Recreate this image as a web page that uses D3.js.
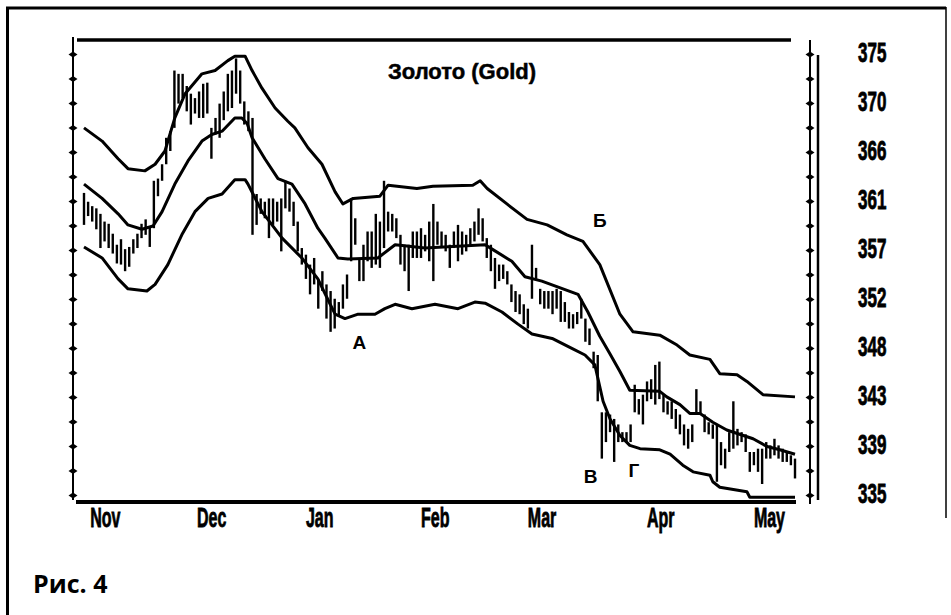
<!DOCTYPE html>
<meta charset="utf-8">
<head>
  <title>Gold</title>
</head>
<style>
body { margin: 0; background: #fff; }
svg { display: block; }
.lbl { font-family: "Liberation Sans", Arial, sans-serif; font-weight: bold; font-size: 20px; fill: #000; stroke: #000; stroke-width: 0.6; }
.note { font-family: "Liberation Sans", Arial, sans-serif; font-weight: bold; font-size: 19px; fill: #000; }
</style>
<body>
  <div id="content"></div>
  <script src="https://cdnjs.cloudflare.com/ajax/libs/d3/7.8.5/d3.min.js"></script>
  <script>

// price labels on the right (original scale, 10 levels)
var priceLabels = ['375', '370', '366', '361', '357', '352', '348', '343', '339', '335'];
// months and the trading day where each label starts
var months = ['Nov', 'Dec', 'Jan', 'Feb', 'Mar', 'Apr', 'May'];
var monthStart = [1.5, 27.5, 54, 82, 108, 137, 163];

// daily bars
var highs = [
  362.4, 361.6, 361.2, 361.0, 360.5, 359.8, 359.6, 358.7, 357.7, 358.2,
  357.3, 357.5, 358.2, 358.7, 359.6, 360.0, 359.4, 363.5, 363.7, 365.0,
  367.4, 368.0, 373.5, 373.2, 373.2, 372.1, 371.4, 371.0, 371.6, 372.3,
  372.4, 368.3, 369.2, 370.5, 371.6, 373.2, 373.5, 374.6, 373.5, 370.7,
  369.8, 369.2, 362.3, 361.9, 361.6, 361.9, 361.9, 361.6, 361.9, 363.5,
  362.8, 361.6, 359.8, 357.4, 356.8, 355.9, 356.5, 354.6, 355.3, 354.1,
  353.5, 352.8, 352.5, 354.1, 355.0, 361.9, 360.1, 356.5, 357.7, 358.9,
  358.9, 360.5, 359.8, 363.5, 360.7, 360.5, 360.1, 358.6, 357.7, 357.7,
  358.9, 358.9, 359.2, 358.6, 359.8, 361.4, 359.8, 358.9, 358.6, 357.7,
  358.9, 359.5, 358.9, 358.6, 359.2, 359.8, 361.0, 360.1, 358.3, 357.7,
  356.5, 355.9, 355.9, 355.3, 354.1, 353.5, 353.2, 352.3, 351.9, 357.7,
  355.6, 353.7, 353.5, 353.5, 353.5, 353.7, 353.5, 352.5, 351.6, 351.4,
  351.6, 352.8, 351.0, 350.1, 348.0, 347.7, 342.5, 342.5, 342.3, 341.9,
  341.4, 340.7, 340.7, 341.4, 345.0, 343.7, 344.1, 345.3, 345.5, 346.8,
  347.1, 344.1, 343.5, 343.5, 342.8, 342.3, 341.4, 341.0, 341.4, 344.6,
  343.5, 342.3, 341.6, 341.4, 341.4, 339.8, 339.2, 340.7, 343.5, 341.0,
  340.7, 340.5, 338.9, 338.9, 339.2, 339.2, 339.8, 339.5, 340.1, 339.5,
  339.2, 338.9, 338.6, 338.3
];
var lows = [
  359.5, 360.3, 359.8, 359.1, 357.4, 358.0, 357.4, 356.9, 356.0, 355.9,
  355.3, 355.7, 356.9, 357.4, 358.3, 358.6, 357.5, 359.2, 362.1, 363.5,
  365.0, 366.2, 368.3, 370.5, 371.0, 369.8, 368.6, 369.6, 369.2, 369.2,
  369.6, 365.5, 367.7, 367.4, 369.0, 369.8, 370.1, 371.4, 370.5, 368.6,
  368.0, 358.6, 359.5, 360.5, 360.1, 358.3, 359.5, 359.8, 357.1, 361.0,
  360.7, 359.4, 357.1, 355.9, 354.6, 353.2, 354.1, 351.9, 353.5, 351.0,
  349.8, 350.1, 351.2, 351.9, 352.8, 356.2, 357.7, 354.4, 354.4, 356.2,
  355.6, 355.9, 355.6, 357.4, 358.9, 358.9, 358.3, 355.9, 355.3, 353.5,
  356.5, 356.5, 356.5, 357.1, 356.2, 354.4, 357.7, 357.4, 357.1, 355.6,
  357.4, 356.2, 356.8, 357.1, 357.7, 358.0, 358.6, 358.0, 356.5, 355.3,
  353.7, 354.4, 354.6, 354.1, 352.5, 351.6, 351.4, 350.5, 350.1, 352.8,
  354.6, 352.3, 351.9, 351.9, 351.4, 351.9, 350.7, 350.7, 350.1, 350.1,
  350.5, 351.0, 348.9, 348.6, 346.5, 343.5, 338.3, 339.8, 340.7, 338.0,
  339.8, 339.8, 339.8, 339.8, 342.5, 342.3, 341.4, 343.5, 343.7, 343.2,
  343.7, 342.5, 342.3, 341.9, 341.0, 340.5, 339.5, 339.2, 339.8, 342.3,
  342.3, 340.7, 340.5, 340.1, 336.2, 337.7, 337.4, 338.9, 339.2, 339.5,
  339.8, 338.9, 337.1, 337.7, 337.1, 336.0, 338.3, 338.3, 338.6, 338.3,
  338.0, 338.0, 337.7, 336.5
];

// envelope: [trading day, price]
var upperBand = [
  [0, 368.3], [4.4, 367.1], [8.3, 365.5], [10.7, 364.6], [14.8, 364.4], [17.3, 365.0],
  [19.7, 366.2], [22.1, 369.2], [24.6, 371.4], [28.7, 373.2], [31.9, 373.5], [35.0, 374.4],
  [36.7, 374.8], [39.2, 374.8], [40.9, 373.5], [43.3, 371.9], [46.5, 370.1], [49.6, 368.9],
  [51.3, 368.3], [54.5, 366.5], [57.9, 365.0], [61.1, 362.5], [63.0, 361.4], [65.5, 361.9],
  [72.0, 362.1], [74.0, 363.1], [81.0, 362.8], [84.9, 363.0], [94.6, 363.1], [96.4, 363.5],
  [98.1, 362.8], [102.9, 361.4], [107.8, 360.0], [112.7, 359.5], [117.5, 358.6], [121.4, 358.0],
  [125.5, 355.9], [130.4, 351.4], [133.6, 349.8], [140.1, 349.5], [144.3, 348.6], [147.4, 347.7],
  [152.3, 347.3], [154.7, 346.0], [158.9, 345.9], [161.3, 345.3], [165.2, 344.1], [173, 343.9]
];
var middleBand = [
  [0, 363.2], [4.4, 361.9], [8.3, 360.5], [10.7, 359.5], [14.1, 359.1], [16.8, 359.4],
  [19.0, 360.7], [22.1, 363.2], [25.3, 365.3], [28.7, 367.1], [31.1, 367.7], [33.6, 368.0],
  [36.7, 369.2], [38.4, 369.2], [39.7, 368.7], [40.9, 367.4], [44.0, 365.5], [47.2, 363.7],
  [50.6, 363.2], [53.8, 361.4], [56.9, 359.2], [58.6, 358.3], [61.8, 356.5], [64.2, 356.4],
  [71.5, 356.5], [75.7, 357.7], [83.0, 357.4], [97.6, 357.7], [99.3, 357.3], [104.1, 356.2],
  [107.3, 354.8], [111.4, 354.4], [120.2, 353.2], [122.6, 351.6], [125.5, 349.4], [128.0, 347.8],
  [130.4, 346.2], [132.8, 344.5], [140.1, 344.4], [141.8, 343.9], [145.0, 343.2], [147.4, 342.4],
  [149.9, 342.4], [153.0, 341.6], [156.4, 340.9], [162.8, 340.1], [166.2, 339.4], [169.3, 339.1],
  [173, 338.7]
];
var lowerBand = [
  [0, 357.5], [4.4, 356.5], [8.3, 354.6], [10.7, 353.7], [15.3, 353.5], [17.3, 354.1],
  [20.4, 355.9], [23.8, 358.6], [27.0, 360.7], [30.2, 361.9], [33.6, 362.3], [36.7, 363.6],
  [39.2, 363.6], [39.9, 363.2], [43.3, 360.7], [48.2, 358.3], [53.0, 356.5], [56.9, 354.6],
  [59.9, 352.3], [61.1, 351.4], [63.5, 351.0], [66.7, 351.4], [70.8, 351.4], [73.2, 351.9],
  [75.7, 352.3], [79.8, 351.9], [85.4, 352.3], [91.0, 351.9], [95.1, 352.5], [97.6, 352.4],
  [101.7, 351.6], [105.6, 350.5], [109.0, 349.6], [113.9, 349.2], [118.7, 348.3], [121.9, 347.7],
  [124.3, 346.8], [126.3, 343.5], [128.0, 341.9], [130.4, 340.4], [132.8, 339.5], [135.3, 339.2],
  [140.1, 339.1], [142.6, 338.7], [145.7, 337.7], [148.2, 337.1], [152.3, 336.8], [153.0, 336.2],
  [154.7, 335.7], [161.3, 335.3], [162.0, 334.8], [173, 334.8]
];

// letter marks: [label, trading day, price at baseline]
var notes = [
  {t: 'А', day: 67, price: 348.2},
  {t: 'Б', day: 125.5, price: 359.3},
  {t: 'В', day: 123.3, price: 336.1},
  {t: 'Г', day: 133.8, price: 336.6}
];

var W = 951, H = 615;
var svg = d3.select('#content').append('svg').attr('width', W).attr('height', H);

var x = d3.scaleLinear().domain([0, highs.length - 1]).range([84, 795]);
var y = d3.scaleLinear().domain([335, 375]).range([495, 54]);

// outer frame
svg.append('line').attr('x1', 6).attr('x2', 946).attr('y1', 8).attr('y2', 8)
  .attr('stroke', '#000').attr('stroke-width', 3);
svg.append('line').attr('x1', 7.5).attr('x2', 7.5).attr('y1', 7).attr('y2', 615)
  .attr('stroke', '#000').attr('stroke-width', 3);
svg.append('line').attr('x1', 946).attr('x2', 946).attr('y1', 7).attr('y2', 518)
  .attr('stroke', '#000').attr('stroke-width', 1.5);

// plot frame
svg.append('line').attr('x1', 77).attr('x2', 791).attr('y1', 40).attr('y2', 40)
  .attr('stroke', '#000').attr('stroke-width', 3.5);
svg.append('line').attr('x1', 76).attr('x2', 796).attr('y1', 502).attr('y2', 502)
  .attr('stroke', '#000').attr('stroke-width', 4);
svg.append('line').attr('x1', 73).attr('x2', 73).attr('y1', 37).attr('y2', 500)
  .attr('stroke', '#000').attr('stroke-width', 2);
svg.append('line').attr('x1', 810).attr('x2', 810).attr('y1', 40).attr('y2', 504)
  .attr('stroke', '#000').attr('stroke-width', 2);
svg.append('line').attr('x1', 818).attr('x2', 818).attr('y1', 55).attr('y2', 500)
  .attr('stroke', '#000').attr('stroke-width', 2.5);

// half step ticks as diamonds on both side axes
var levels = priceLabels.map(function(d, i) { return 375 - i * 40 / 9; });
var halfLevels = d3.range(19).map(function(i) { return 375 - i * 20 / 9; });
var diamond = 'M-4.5,0L0,-3L4.5,0L0,3Z';

var leftAxis = svg.append('g').attr('transform', 'translate(73,0)')
  .call(d3.axisLeft(y).tickValues(halfLevels).tickSize(0).tickSizeOuter(0).tickFormat(''));
leftAxis.select('.domain').remove();
leftAxis.selectAll('.tick').append('path').attr('d', diamond).attr('fill', '#000');

var rightAxis = svg.append('g').attr('transform', 'translate(810,0)')
  .call(d3.axisRight(y).tickValues(halfLevels).tickSize(0).tickSizeOuter(0).tickFormat(''));
rightAxis.select('.domain').remove();
rightAxis.selectAll('.tick').append('path').attr('d', diamond).attr('fill', '#000');

// right price labels
svg.append('g').selectAll('text').data(levels).join('text')
  .attr('class', 'lbl')
  .attr('transform', function(d) { return 'translate(858,' + (y(d) + 8) + ') scale(0.85,1.4)'; })
  .text(function(d, i) { return priceLabels[i]; });

// month labels
svg.append('g').selectAll('text').data(months).join('text')
  .attr('class', 'lbl')
  .attr('transform', function(d, i) { return 'translate(' + x(monthStart[i]) + ',527) scale(0.8,1.35)'; })
  .text(function(d) { return d; });

// bars
svg.append('g').selectAll('line').data(highs).join('line')
  .attr('x1', function(d, i) { return x(i); })
  .attr('x2', function(d, i) { return x(i); })
  .attr('y1', function(d) { return y(d); })
  .attr('y2', function(d, i) { return y(lows[i]); })
  .attr('stroke', '#000').attr('stroke-width', 2.4);

// envelope lines
var line = d3.line()
  .x(function(d) { return x(d[0]); })
  .y(function(d) { return y(d[1]); });
[upperBand, middleBand, lowerBand].forEach(function(b) {
  svg.append('path').datum(b).attr('d', line)
    .attr('fill', 'none').attr('stroke', '#000').attr('stroke-width', 3)
    .attr('stroke-linejoin', 'round');
});

// title
svg.append('text').attr('x', 462).attr('y', 79).attr('text-anchor', 'middle')
  .attr('class', 'note').style('font-size', '22px')
  .style('stroke', '#000').style('stroke-width', 0.5)
  .text('Золото (Gold)');

// letter marks
svg.append('g').selectAll('text').data(notes).join('text')
  .attr('class', 'note')
  .attr('x', function(d) { return x(d.day); })
  .attr('y', function(d) { return y(d.price); })
  .attr('text-anchor', 'middle')
  .text(function(d) { return d.t; });

// caption
svg.append('text').attr('x', 33).attr('y', 593)
  .style('font-family', '"Open Sans", "Noto Sans", sans-serif')
  .style('font-weight', 'bold').style('font-size', '25px')
  .text('Рис. 4');
</script>
</body>
</html>
